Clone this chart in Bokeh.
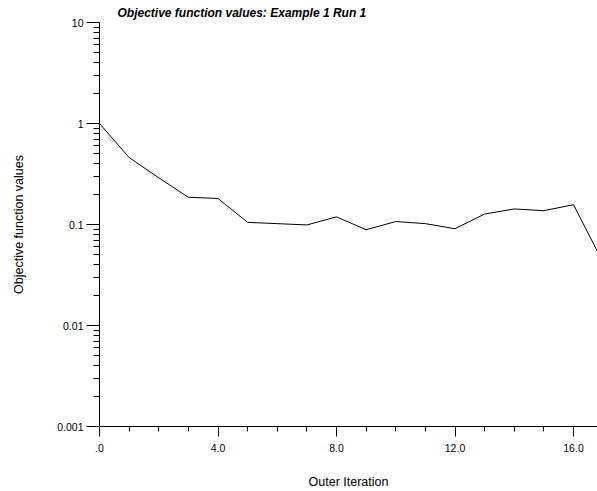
from bokeh.plotting import figure
from bokeh.models import Range1d, FixedTicker, CustomJSTickFormatter
from bokeh.embed import file_html
from bokeh.resources import INLINE

iterations = list(range(0, 18))
objective = [1.0, 0.46, 0.29, 0.186, 0.181, 0.105, 0.102, 0.099, 0.119, 0.0887,
             0.107, 0.102, 0.0908, 0.127, 0.1425, 0.137, 0.157, 0.042]

x_major = [0, 4, 8, 12, 16]
x_minor = list(range(0, 17))
y_major = [0.001, 0.01, 0.1, 1, 10]
y_minor = [m * 10.0 ** e for e in range(-3, 1) for m in range(1, 11)]

FONT = "Liberation Sans"

p = figure(width=597, height=491, y_axis_type="log",
           x_range=Range1d(0, 16.81), y_range=Range1d(0.001, 10),
           output_backend="svg", toolbar_location=None,
           min_border_left=99, min_border_right=0, min_border_top=22, min_border_bottom=65,
           title="Objective function values: Example 1 Run 1")

p.outline_line_color = None
p.grid.visible = False
p.background_fill_color = "white"
p.border_fill_color = "white"

p.title.text_font = FONT
p.title.text_font_size = "12px"
p.title.text_font_style = "bold italic"
p.title.align = "left"
p.title.offset = 18
p.title.standoff = 6
p.title.text_color = "black"

p.line(iterations, objective, line_color="black", line_width=1)

xa = p.xaxis[0]
xa.ticker = FixedTicker(ticks=x_major, minor_ticks=x_minor)
xa.formatter = CustomJSTickFormatter(code="return tick == 0 ? '.0' : tick.toFixed(1);")
xa.axis_label = "Outer Iteration"
xa.major_tick_out = 10
xa.major_tick_in = 0
xa.minor_tick_out = 5
xa.minor_tick_in = 0
xa.major_label_standoff = 7
xa.axis_label_standoff = 20

ya = p.yaxis[0]
ya.ticker = FixedTicker(ticks=y_major, minor_ticks=y_minor)
ya.formatter = CustomJSTickFormatter(code="return tick.toString();")
ya.axis_label = "Objective function values"
ya.major_tick_out = 13
ya.major_tick_in = 0
ya.minor_tick_out = 6
ya.minor_tick_in = 0
ya.major_label_standoff = 3
ya.major_label_text_baseline = "alphabetic"
ya.axis_label_standoff = 28

for ax in (xa, ya):
    ax.axis_line_color = "black"
    ax.major_tick_line_color = "black"
    ax.minor_tick_line_color = "black"
    ax.major_label_text_font = FONT
    ax.major_label_text_font_size = "10.5px"
    ax.major_label_text_color = "black"
    ax.axis_label_text_font = FONT
    ax.axis_label_text_font_size = "12.5px"
    ax.axis_label_text_font_style = "normal"
    ax.axis_label_text_color = "black"

open("out.html", "w").write(file_html(p, INLINE))
